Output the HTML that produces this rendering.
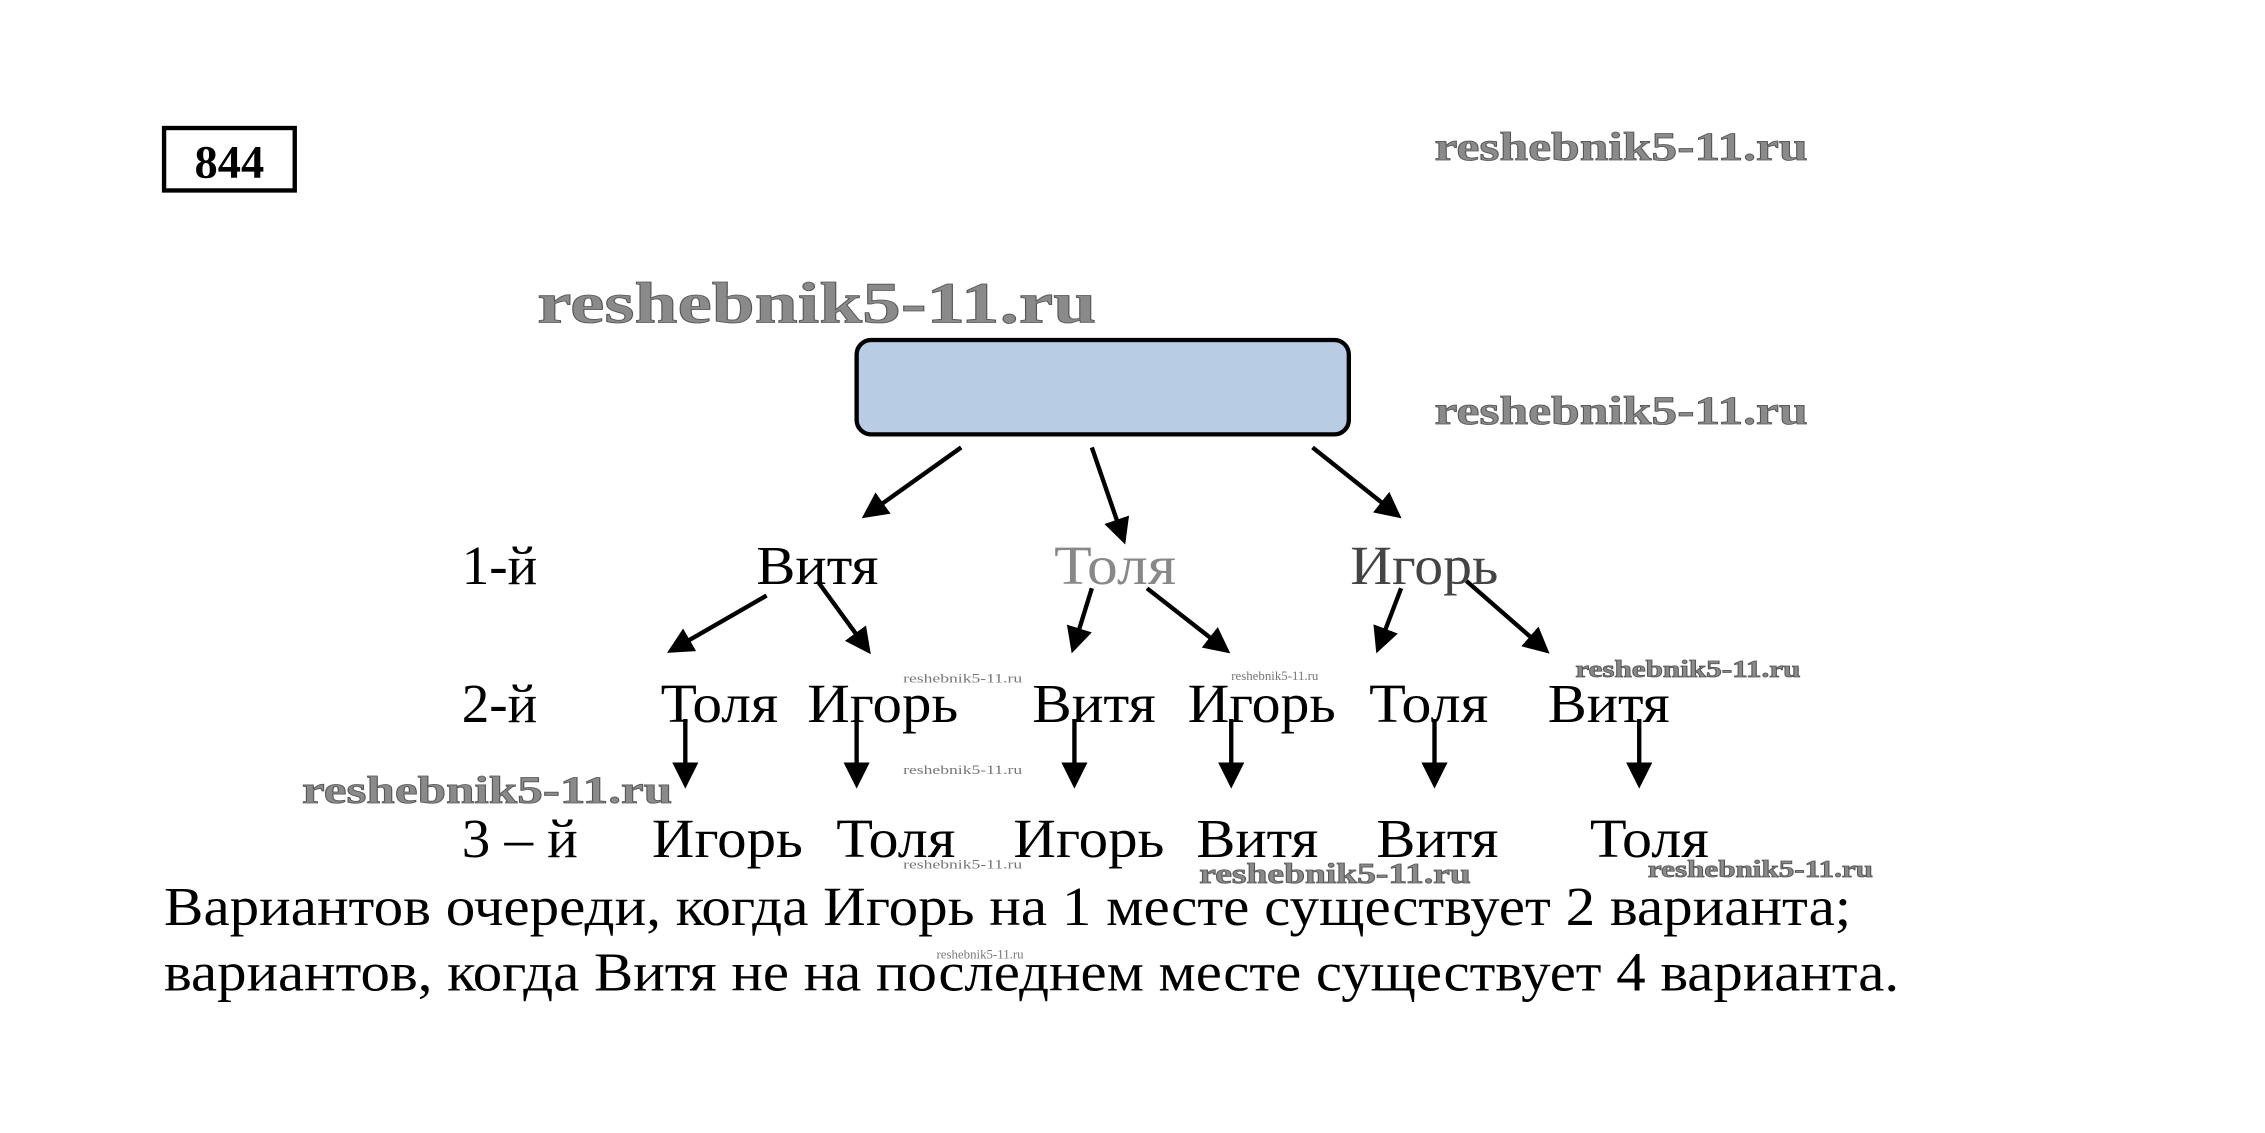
<!DOCTYPE html>
<html><head><meta charset="utf-8"><style>html,body{margin:0;padding:0;background:#fff;}svg{display:block}</style></head>
<body>
<svg width="2265" height="1133" viewBox="0 0 1560 780" xmlns="http://www.w3.org/2000/svg" font-family="'Liberation Serif', serif">
<defs>
<marker id="a" markerWidth="6" markerHeight="6" refX="5" refY="3" orient="auto" markerUnits="strokeWidth"><path d="M0,0 L6,3 L0,6 z" fill="#000"/></marker>
</defs>
<rect width="1560" height="780" fill="#fff"/>
<rect x="113" y="88" width="90" height="43" fill="none" stroke="#000" stroke-width="3"/>
<text x="158" y="122" font-size="32" font-weight="bold" text-anchor="middle">844</text>
<g fill="#8a8a8a" font-weight="bold" stroke="#555" stroke-width="0.6">
<text x="988" y="110" font-size="28" textLength="257" lengthAdjust="spacingAndGlyphs">reshebnik5-11.ru</text>
<text x="370" y="222" font-size="40" textLength="385" lengthAdjust="spacingAndGlyphs">reshebnik5-11.ru</text>
<text x="988" y="292" font-size="28" textLength="257" lengthAdjust="spacingAndGlyphs">reshebnik5-11.ru</text>
<text x="1085" y="466" font-size="17" textLength="155" lengthAdjust="spacingAndGlyphs">reshebnik5-11.ru</text>
<text x="208" y="553" font-size="27" textLength="255" lengthAdjust="spacingAndGlyphs">reshebnik5-11.ru</text>
<text x="826" y="608" font-size="20" textLength="187" lengthAdjust="spacingAndGlyphs">reshebnik5-11.ru</text>
<text x="1135" y="604" font-size="17" textLength="155" lengthAdjust="spacingAndGlyphs">reshebnik5-11.ru</text>
</g>
<g fill="#777" font-size="9">
<text x="622" y="470" textLength="82" lengthAdjust="spacingAndGlyphs">reshebnik5-11.ru</text>
<text x="848" y="468" textLength="60" lengthAdjust="spacingAndGlyphs">reshebnik5-11.ru</text>
<text x="622" y="533" textLength="82" lengthAdjust="spacingAndGlyphs">reshebnik5-11.ru</text>
<text x="622" y="598" textLength="82" lengthAdjust="spacingAndGlyphs">reshebnik5-11.ru</text>
<text x="645" y="660" textLength="60" lengthAdjust="spacingAndGlyphs">reshebnik5-11.ru</text>
</g>
<rect x="590" y="234" width="339" height="65" rx="10" fill="#b8cce4" stroke="#000" stroke-width="3"/>
<g stroke="#000" stroke-width="3" marker-end="url(#a)">
<line x1="662" y1="308" x2="596" y2="355"/>
<line x1="752" y1="308" x2="774" y2="372"/>
<line x1="904" y1="308" x2="963" y2="355"/>
<line x1="528" y1="410" x2="462" y2="448"/>
<line x1="563" y1="400" x2="598" y2="448"/>
<line x1="752" y1="405" x2="739" y2="447"/>
<line x1="790" y1="405" x2="845" y2="448"/>
<line x1="965" y1="405" x2="949" y2="447"/>
<line x1="1010" y1="400" x2="1065" y2="448"/>
<line x1="472" y1="495" x2="472" y2="540"/>
<line x1="590" y1="495" x2="590" y2="540"/>
<line x1="740" y1="495" x2="740" y2="540"/>
<line x1="848" y1="495" x2="848" y2="540"/>
<line x1="988" y1="495" x2="988" y2="540"/>
<line x1="1129" y1="495" x2="1129" y2="540"/>
</g>
<g font-size="38" fill="#000">
<text x="318" y="402" textLength="52" lengthAdjust="spacingAndGlyphs">1-й</text>
<text x="521" y="402" textLength="84" lengthAdjust="spacingAndGlyphs">Витя</text>
<text x="726" y="402" textLength="84" lengthAdjust="spacingAndGlyphs" fill="#888">Толя</text>
<text x="930" y="402" textLength="102" lengthAdjust="spacingAndGlyphs" fill="#444">Игорь</text>
<text x="318" y="497" textLength="52" lengthAdjust="spacingAndGlyphs">2-й</text>
<text x="455" y="497" textLength="81" lengthAdjust="spacingAndGlyphs">Толя</text>
<text x="556" y="497" textLength="104" lengthAdjust="spacingAndGlyphs">Игорь</text>
<text x="711" y="497" textLength="85" lengthAdjust="spacingAndGlyphs">Витя</text>
<text x="818" y="497" textLength="102" lengthAdjust="spacingAndGlyphs">Игорь</text>
<text x="943" y="497" textLength="82" lengthAdjust="spacingAndGlyphs">Толя</text>
<text x="1066" y="497" textLength="84" lengthAdjust="spacingAndGlyphs">Витя</text>
<text x="318" y="590" textLength="80" lengthAdjust="spacingAndGlyphs">3 – й</text>
<text x="449" y="590" textLength="104" lengthAdjust="spacingAndGlyphs">Игорь</text>
<text x="576" y="590" textLength="82" lengthAdjust="spacingAndGlyphs">Толя</text>
<text x="698" y="590" textLength="104" lengthAdjust="spacingAndGlyphs">Игорь</text>
<text x="824" y="590" textLength="84" lengthAdjust="spacingAndGlyphs">Витя</text>
<text x="948" y="590" textLength="84" lengthAdjust="spacingAndGlyphs">Витя</text>
<text x="1095" y="590" textLength="82" lengthAdjust="spacingAndGlyphs">Толя</text>
<text x="113" y="637" textLength="1162" lengthAdjust="spacingAndGlyphs">Вариантов очереди, когда Игорь на 1 месте существует 2 варианта;</text>
<text x="113" y="682" textLength="1195" lengthAdjust="spacingAndGlyphs">вариантов, когда Витя не на последнем месте существует 4 варианта.</text>
</g>
</svg>
</body></html>
